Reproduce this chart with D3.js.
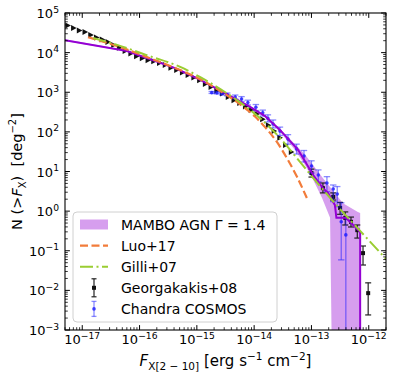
<!DOCTYPE html>
<html><head><meta charset="utf-8">
<script src="https://cdn.jsdelivr.net/npm/d3@7"></script>
<style>
body{margin:0;background:#fff;}
svg{display:block;font-family:"DejaVu Sans",sans-serif;}
text{white-space:pre;}
</style></head><body>
<svg id="c" width="395" height="380"></svg>
<script>
// ---------- data (log10 values) ----------
// Georgakakis+08, dense faint part
const georgDenseLogF = [-17.25,-17.15,-17.05,-16.95,-16.85,-16.75,-16.65,-16.55,-16.45,-16.35,-16.25,-16.15,-16.05,-15.95,-15.85,-15.75,-15.65,-15.55,-15.45,-15.35,-15.25,-15.15,-15.05,-14.95,-14.85,-14.75,-14.65,-14.55,-14.45,-14.35,-14.25,-14.15,-14.05,-13.95,-13.85,-13.75,-13.65,-13.55,-13.45,-13.35];
const georgDenseLogN = [4.685,4.62,4.56,4.52,4.445,4.38,4.33,4.27,4.19,4.12,4.04,3.98,3.91,3.86,3.81,3.78,3.74,3.69,3.62,3.56,3.50,3.435,3.37,3.30,3.21,3.13,3.04,2.97,2.88,2.80,2.73,2.64,2.55,2.45,2.32,2.17,2.02,1.85,1.67,1.49];
// Georgakakis+08, bright sparse part
const georgLogF   = [-13.0,-12.8,-12.62,-12.5,-12.41,-12.31,-12.2,-12.1,-12.01];
const georgLogN   = [0.96,0.58,0.36,0.08,-0.17,-0.27,-0.48,-1.06,-2.07];
const georgLogNHi = [1.06,0.71,0.46,0.22,-0.02,-0.15,-0.35,-0.88,-1.81];
const georgLogNLo = [0.86,0.46,0.28,-0.08,-0.35,-0.40,-0.68,-1.36,-2.62];
// Chandra COSMOS
const cosmosLogF   = [-14.74,-14.65,-14.56,-14.47,-14.33,-14.22,-14.11,-13.97,-13.85,-13.76,-13.67,-13.55,-13.41,-13.26,-13.13,-13.00,-12.88,-12.73,-12.62,-12.55,-12.48,-12.40];
const cosmosLogN   = [2.99,2.98,2.97,2.94,2.88,2.83,2.74,2.62,2.48,2.34,2.20,2.02,1.82,1.57,1.39,1.14,0.91,0.71,0.56,0.43,-0.27,-0.60];
const cosmosLogNHi = [3.02,3.01,2.99,2.98,2.93,2.89,2.80,2.69,2.55,2.43,2.30,2.12,1.93,1.69,1.53,1.27,1.04,0.87,0.66,0.62,0.21,-0.17];
const cosmosLogNLo = [2.97,2.96,2.93,2.91,2.83,2.77,2.68,2.54,2.40,2.25,2.10,1.91,1.69,1.44,1.24,0.96,0.74,0.49,0.24,0.11,-1.23,-6];
// MAMBO AGN Gamma=1.4 (median line)
const mamboLogF = [-17.40,-16.22,-15.38,-14.94,-14.51,-14.07,-13.81,-13.55,-13.23,-12.97,-12.80,-12.71,-12.59,-12.565,-12.40,-12.15,-12.15];
const mamboLogN = [4.34,4.04,3.61,3.31,2.98,2.63,2.40,2.05,1.54,0.91,0.58,0.46,0.15,-0.17,-0.17,-0.53,-6];
// MAMBO band
const bandLogF  = [-17.40,-16.22,-15.38,-14.94,-14.51,-14.07,-13.81,-13.548,-13.286,-13.11,-12.97,-12.815,-12.675,-12.645,-12.45,-12.19,-12.15];
const bandLogHi = [4.36,4.06,3.63,3.33,3.00,2.65,2.42,2.07,1.69,1.42,1.16,0.86,0.61,0.56,0.20,-0.02,-0.05];
const bandLogLo = [4.32,4.02,3.59,3.29,2.96,2.61,2.37,2.00,1.54,1.16,0.79,0.33,-0.17,-6,-6,-6,-6];
// Luo+17
const luoLogF = [-16.90,-16.34,-15.82,-15.29,-14.94,-14.59,-14.25,-13.98,-13.81,-13.60,-13.41,-13.25,-13.08];
const luoLogN = [4.39,4.14,3.86,3.56,3.33,3.03,2.70,2.38,2.12,1.74,1.29,0.86,0.33];
// Gilli+07
const gilliLogF = [-16.81,-16.34,-15.82,-15.29,-14.94,-14.59,-14.25,-13.90,-13.55,-13.20,-12.85,-12.50,-12.15,-11.60];
const gilliLogN = [4.37,4.17,3.91,3.64,3.38,3.08,2.75,2.35,1.85,1.24,0.63,0.05,-0.50,-1.36];
// ticks
const xTickExps = [-17,-16,-15,-14,-13,-12];
const yTickExps = [-3,-2,-1,0,1,2,3,4,5];
const legendLabels = ["MAMBO AGN Γ = 1.4","Luo+17","Gilli+07","Georgakakis+08","Chandra COSMOS"];

// ---------- setup ----------
const P = v => Math.pow(10, v);
const L = 65, R = 386, T = 13, B = 330;
const svg = d3.select("#c");
const x = d3.scaleLog().domain([5e-18, 2e-12]).range([L, R]);
const y = d3.scaleLog().domain([1e-3, 1e5]).range([B, T]);
const yc = v => Math.max(T - 20, Math.min(B + 20, y(P(v))));
const xc = v => x(P(v));

svg.append("defs").append("clipPath").attr("id","clip")
  .append("rect").attr("x",L).attr("y",T).attr("width",R-L).attr("height",B-T);
const g = svg.append("g").attr("clip-path","url(#clip)");

const PURPLE = "#9400d3", ORANGE = "#f27c3a", GREEN = "#9acd32", BLUE = "#1a1aff";

// band
const band = bandLogF.map((f,i)=>({f, hi: bandLogHi[i], lo: bandLogLo[i]}));
g.append("path").datum(band)
  .attr("d", d3.area().x(d=>xc(d.f)).y0(d=>yc(d.lo)).y1(d=>yc(d.hi)))
  .attr("fill", PURPLE).attr("fill-opacity", 0.38).attr("stroke","none");

// Georgakakis dense (triangle-like markers)
georgDenseLogF.forEach((f,i)=>{
  g.append("path").attr("transform",`translate(${xc(f)},${yc(georgDenseLogN[i])})`)
    .attr("d","M-2.6,-3L3,0L-2.6,3Z").attr("fill","#111");
});
// Georgakakis bright
georgLogF.forEach((f,i)=>{
  const cx = xc(f);
  const y1 = yc(georgLogNHi[i]), y2 = yc(georgLogNLo[i]);
  g.append("line").attr("x1",cx).attr("x2",cx).attr("y1",y1).attr("y2",y2).attr("stroke","#222").attr("stroke-width",1.2);
  [y1,y2].forEach(yy=>g.append("line").attr("x1",cx-3).attr("x2",cx+3).attr("y1",yy).attr("y2",yy).attr("stroke","#222").attr("stroke-width",1.2));
  g.append("rect").attr("x",cx-2).attr("y",yc(georgLogN[i])-2).attr("width",4).attr("height",4).attr("fill","#111");
});
// Chandra COSMOS
cosmosLogF.forEach((f,i)=>{
  const cx = xc(f);
  const y1 = yc(cosmosLogNHi[i]), y2 = yc(cosmosLogNLo[i]);
  const eg = g.append("g").attr("stroke",BLUE).attr("stroke-opacity",0.5).attr("stroke-width",1.3);
  eg.append("line").attr("x1",cx).attr("x2",cx).attr("y1",y1).attr("y2",y2);
  [y1,y2].forEach(yy=>eg.append("line").attr("x1",cx-3.2).attr("x2",cx+3.2).attr("y1",yy).attr("y2",yy));
  g.append("circle").attr("cx",cx).attr("cy",yc(cosmosLogN[i])).attr("r",1.8).attr("fill",BLUE).attr("fill-opacity",0.8);
});

const line = d3.line().x(d=>xc(d[0])).y(d=>yc(d[1]));
g.append("path").datum(mamboLogF.map((f,i)=>[f,mamboLogN[i]])).attr("d",line)
  .attr("fill","none").attr("stroke",PURPLE).attr("stroke-width",2);
g.append("path").datum(luoLogF.map((f,i)=>[f,luoLogN[i]])).attr("d",line.curve(d3.curveMonotoneX))
  .attr("fill","none").attr("stroke",ORANGE).attr("stroke-width",2.2).attr("stroke-dasharray","8,3.5");
g.append("path").datum(gilliLogF.map((f,i)=>[f,gilliLogN[i]])).attr("d",line.curve(d3.curveMonotoneX))
  .attr("fill","none").attr("stroke",GREEN).attr("stroke-width",2).attr("stroke-dasharray","13,3.5,2,3.5");

// ---------- axes ----------
const ax = svg.append("g").attr("stroke","#000");
function minorTicks(scale){
  const [a,b] = scale.domain(); const out=[];
  for(let e=Math.floor(Math.log10(a)); e<=Math.ceil(Math.log10(b)); e++){
    for(let m=1;m<10;m++){ const v=m*Math.pow(10,e); if(v>=a*0.999 && v<=b*1.001) out.push({v, major:m===1}); }
  }
  return out;
}
minorTicks(x).forEach(t=>{
  const px = x(t.v), len = t.major?4.9:2.8;
  ax.append("line").attr("x1",px).attr("x2",px).attr("y1",B).attr("y2",B-len).attr("stroke-width",t.major?1:0.8);
  ax.append("line").attr("x1",px).attr("x2",px).attr("y1",T).attr("y2",T+len).attr("stroke-width",t.major?1:0.8);
});
minorTicks(y).forEach(t=>{
  const py = y(t.v), len = t.major?4.9:2.8;
  ax.append("line").attr("y1",py).attr("y2",py).attr("x1",L).attr("x2",L+len).attr("stroke-width",t.major?1:0.8);
  ax.append("line").attr("y1",py).attr("y2",py).attr("x1",R).attr("x2",R-len).attr("stroke-width",t.major?1:0.8);
});
svg.append("rect").attr("x",L).attr("y",T).attr("width",R-L).attr("height",B-T)
  .attr("fill","none").attr("stroke","#000").attr("stroke-width",1.1);

const expStr = e => (e<0?"−":"")+Math.abs(e);
xTickExps.forEach(e=>{
  const t = svg.append("text").attr("x",x(P(e))).attr("y",344).attr("text-anchor","middle").attr("font-size",13).attr("fill","#000");
  t.append("tspan").text("10");
  t.append("tspan").attr("dy",-5.5).attr("font-size",9.2).text(expStr(e));
});
yTickExps.forEach(e=>{
  const t = svg.append("text").attr("x",59).attr("y",y(P(e))+5).attr("text-anchor","end").attr("font-size",13).attr("fill","#000");
  t.append("tspan").text("10");
  t.append("tspan").attr("dy",-5.5).attr("font-size",9.2).text(expStr(e));
});

// axis labels
const xl = svg.append("text").attr("x",(L+R)/2).attr("y",366).attr("text-anchor","middle").attr("font-size",15).attr("fill","#000");
xl.append("tspan").attr("font-style","italic").text("F");
xl.append("tspan").attr("dy",4).attr("font-size",10.5).text("X[2 − 10]");
xl.append("tspan").attr("dy",-4).text(" [erg s");
xl.append("tspan").attr("dy",-6).attr("font-size",10.5).text("−1");
xl.append("tspan").attr("dy",6).text(" cm");
xl.append("tspan").attr("dy",-6).attr("font-size",10.5).text("−2");
xl.append("tspan").attr("dy",6).text("]");

const yl = svg.append("text").attr("transform",`translate(22,${(T+B)/2})rotate(-90)`).attr("text-anchor","middle").attr("font-size",14.5).attr("fill","#000");
yl.append("tspan").text("N (>");
yl.append("tspan").attr("font-style","italic").text("F");
yl.append("tspan").attr("dy",4).attr("font-size",10).text("X");
yl.append("tspan").attr("dy",-4).text(")  [deg");
yl.append("tspan").attr("dy",-6).attr("font-size",10).text("−2");
yl.append("tspan").attr("dy",6).text("]");

// ---------- legend ----------
const lg = svg.append("g");
lg.append("rect").attr("x",73).attr("y",212).attr("width",204).attr("height",110).attr("rx",4)
  .attr("fill","#fff").attr("fill-opacity",0.8).attr("stroke","#d0d0d0").attr("stroke-width",1);
const ly = [224.5,245.6,266.7,287.8,308.9];
const hx0 = 80, hx1 = 108, hxm = 94;
lg.append("rect").attr("x",hx0).attr("y",ly[0]-5).attr("width",hx1-hx0).attr("height",10).attr("fill",PURPLE).attr("fill-opacity",0.38);
lg.append("line").attr("x1",hx0).attr("x2",hx1).attr("y1",ly[1]).attr("y2",ly[1]).attr("stroke",ORANGE).attr("stroke-width",2.2).attr("stroke-dasharray","8,3.5");
lg.append("line").attr("x1",hx0).attr("x2",hx1).attr("y1",ly[2]).attr("y2",ly[2]).attr("stroke",GREEN).attr("stroke-width",2).attr("stroke-dasharray","13,3.5,2,3.5");
// Georgakakis handle
{
  const a = ly[3]-9, b = ly[3]+9;
  lg.append("line").attr("x1",hxm).attr("x2",hxm).attr("y1",a).attr("y2",b).attr("stroke","#222").attr("stroke-width",1.2);
  [a,b].forEach(yy=>lg.append("line").attr("x1",hxm-2.5).attr("x2",hxm+2.5).attr("y1",yy).attr("y2",yy).attr("stroke","#222").attr("stroke-width",1.2));
  lg.append("rect").attr("x",hxm-2).attr("y",ly[3]-2).attr("width",4).attr("height",4).attr("fill","#111");
}
// Chandra handle
{
  const a = ly[4]-7.5, b = ly[4]+7.5;
  const eg = lg.append("g").attr("stroke",BLUE).attr("stroke-opacity",0.5).attr("stroke-width",1.3);
  eg.append("line").attr("x1",hxm).attr("x2",hxm).attr("y1",a).attr("y2",b);
  [a,b].forEach(yy=>eg.append("line").attr("x1",hxm-2.5).attr("x2",hxm+2.5).attr("y1",yy).attr("y2",yy));
  lg.append("circle").attr("cx",hxm).attr("cy",ly[4]).attr("r",1.8).attr("fill",BLUE).attr("fill-opacity",0.8);
}
legendLabels.forEach((s,i)=>{
  lg.append("text").attr("x",121).attr("y",ly[i]+5).attr("font-size",14).attr("fill","#000").text(s);
});
</script>
</body></html>
